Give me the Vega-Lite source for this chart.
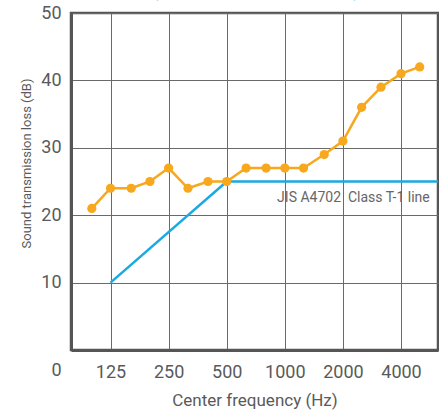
{
  "$schema": "https://vega.github.io/schema/vega-lite/v6.json",
  "width": 367,
  "height": 337,
  "autosize": "none",
  "padding": {"left": 71, "top": 13, "right": 1, "bottom": 62},
  "background": "white",
  "config": {
    "font": "Roboto",
    "view": {"stroke": "#555555", "strokeWidth": 2.5}
  },
  "datasets": {
    "measured": [
      {"freq": 100, "loss": 21},
      {"freq": 125, "loss": 24},
      {"freq": 160, "loss": 24},
      {"freq": 200, "loss": 25},
      {"freq": 250, "loss": 27},
      {"freq": 315, "loss": 24},
      {"freq": 400, "loss": 25},
      {"freq": 500, "loss": 25},
      {"freq": 630, "loss": 27},
      {"freq": 800, "loss": 27},
      {"freq": 1000, "loss": 27},
      {"freq": 1250, "loss": 27},
      {"freq": 1600, "loss": 29},
      {"freq": 2000, "loss": 31},
      {"freq": 2500, "loss": 36},
      {"freq": 3150, "loss": 39},
      {"freq": 4000, "loss": 41},
      {"freq": 5000, "loss": 42}
    ],
    "jis": [
      {"freq": 125, "loss": 10},
      {"freq": 500, "loss": 25},
      {"freq": 6300, "loss": 25}
    ],
    "jislabel": [
      {"freq": 5000, "loss": 25, "label": "JIS A4702\u00a0 Class T-1 line"}
    ],
    "heading": [
      {"freq": 707, "loss": 50, "label": "(Single-pane window glass)"}
    ]
  },
  "layer": [
    {
      "data": {"name": "jis"},
      "mark": {"type": "line", "color": "#1AA9E1", "strokeWidth": 2.5, "clip": true},
      "encoding": {
        "x": {
          "field": "freq",
          "type": "quantitative",
          "scale": {"type": "log", "base": 2, "domain": [78, 6220], "nice": false},
          "axis": {
            "values": [125, 250, 500, 1000, 2000, 4000],
            "grid": true,
            "gridColor": "#6a6a6a",
            "gridWidth": 1,
            "ticks": false,
            "labelPadding": 13,
            "labelFontSize": 18,
            "labelColor": "#5a5a5a",
            "labelFlush": false,
            "labelOverlap": false,
            "format": "d",
            "domainColor": "#555555",
            "domainWidth": 3,
            "title": "Center frequency (Hz)",
            "titleFontSize": 17,
            "titleFontWeight": "normal",
            "titleColor": "#5a5a5a",
            "titlePadding": 11
          }
        },
        "y": {
          "field": "loss",
          "type": "quantitative",
          "scale": {"domain": [0, 50], "nice": false},
          "axis": {
            "values": [0, 10, 20, 30, 40, 50],
            "grid": true,
            "gridColor": "#6a6a6a",
            "gridWidth": 1,
            "ticks": false,
            "labelPadding": 10,
            "labelOffset": {"expr": "datum.value === 0 ? 20 : 0"},
            "labelFontSize": 18,
            "labelColor": "#5a5a5a",
            "labelFlush": false,
            "labelOverlap": false,
            "domainColor": "#555555",
            "domainWidth": 3,
            "title": "Sound transmission loss (dB)",
            "titleFontSize": 13,
            "titleFontWeight": "normal",
            "titleColor": "#5a5a5a",
            "titleX": -45,
            "titleY": 150,
            "titleBaseline": "middle"
          }
        }
      }
    },
    {
      "data": {"name": "measured"},
      "mark": {
        "type": "line",
        "color": "#F8A81D",
        "strokeWidth": 2.5,
        "point": {"filled": true, "size": 85, "color": "#F8A81D", "opacity": 1}
      },
      "encoding": {
        "x": {"field": "freq", "type": "quantitative"},
        "y": {"field": "loss", "type": "quantitative"}
      }
    },
    {
      "data": {"name": "jislabel"},
      "mark": {"type": "text", "align": "right", "baseline": "middle", "dx": 10, "dy": 16, "fontSize": 14, "color": "#666666"},
      "encoding": {
        "x": {"field": "freq", "type": "quantitative"},
        "y": {"field": "loss", "type": "quantitative"},
        "text": {"field": "label"}
      }
    },
    {
      "data": {"name": "heading"},
      "mark": {"type": "text", "align": "center", "baseline": "alphabetic", "dy": -16, "fontSize": 17, "color": "#1AA9E1", "clip": false},
      "encoding": {
        "x": {"field": "freq", "type": "quantitative"},
        "y": {"field": "loss", "type": "quantitative"},
        "text": {"field": "label"}
      }
    }
  ]
}
